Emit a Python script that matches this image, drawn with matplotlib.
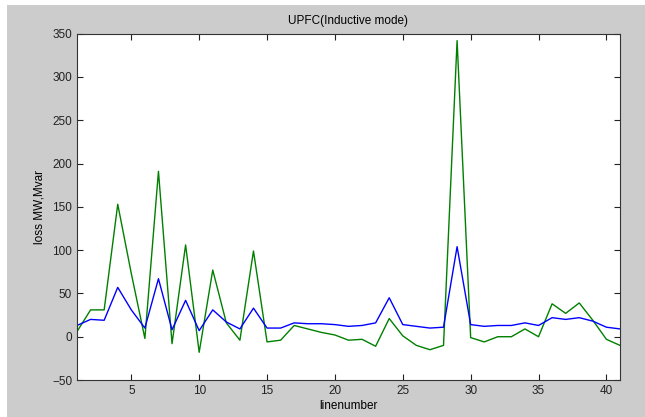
import matplotlib
matplotlib.use("Agg")
import matplotlib.pyplot as plt
from matplotlib.patches import Rectangle

plt.rcParams['font.family'] = ['Liberation Sans', 'DejaVu Sans']

# line numbers 1..41
linenumber = list(range(1, 42))

# loss values
loss_green = [6, 31, 31, 153, 73, -2, 191, -8, 106, -18,
              77, 16, -4, 99, -6, -4, 13, 9, 5, 2,
              -4, -3, -11, 21, 1, -10, -15, -10, 342, -1,
              -6, 0, 0, 9, 0, 38, 27, 39, 19, -3, -10]
loss_blue = [13, 20, 19, 57, 31, 10, 67, 8, 42, 7,
             31, 17, 9, 33, 10, 10, 16, 15, 15, 14,
             12, 13, 16, 45, 14, 12, 10, 11, 104, 14,
             12, 13, 13, 16, 13, 22, 20, 22, 18, 11, 9]

fig = plt.figure(figsize=(6.45, 4.17), dpi=100, facecolor=(0.8, 0.8, 0.8))
# white margin strips of the screenshot
fig.patches.append(Rectangle((0, 0.988), 1, 0.012, transform=fig.transFigure,
                             facecolor='white', edgecolor='none', zorder=-1))
fig.patches.append(Rectangle((0, 0), 0.011, 1, transform=fig.transFigure,
                             facecolor='white', edgecolor='none', zorder=-1))

ax = fig.add_axes([0.1194, 0.0887, 0.8418, 0.8305])
ax.plot(linenumber, loss_green, color=(0, 0.5, 0), lw=1.0)
ax.plot(linenumber, loss_blue, color=(0, 0, 1), lw=1.0)

ax.set_xlim(1, 41)
ax.set_ylim(-50, 350)
ax.set_xticks([5, 10, 15, 20, 25, 30, 35, 40])
ax.set_yticks(range(-50, 351, 50))
ax.tick_params(direction='in', top=True, right=True, length=4, labelsize=8.5,
               colors='#222222', width=0.8)
for s in ax.spines.values():
    s.set_color('#333333')
    s.set_linewidth(0.8)

ax.set_title('UPFC(Inductive mode)', fontsize=8.5, pad=7)
ax.set_xlabel('linenumber', fontsize=8.5, labelpad=2)
ax.set_ylabel('loss MW,Mvar', fontsize=8.5, labelpad=5)

fig.savefig('out.png', dpi=100, facecolor=fig.get_facecolor())
